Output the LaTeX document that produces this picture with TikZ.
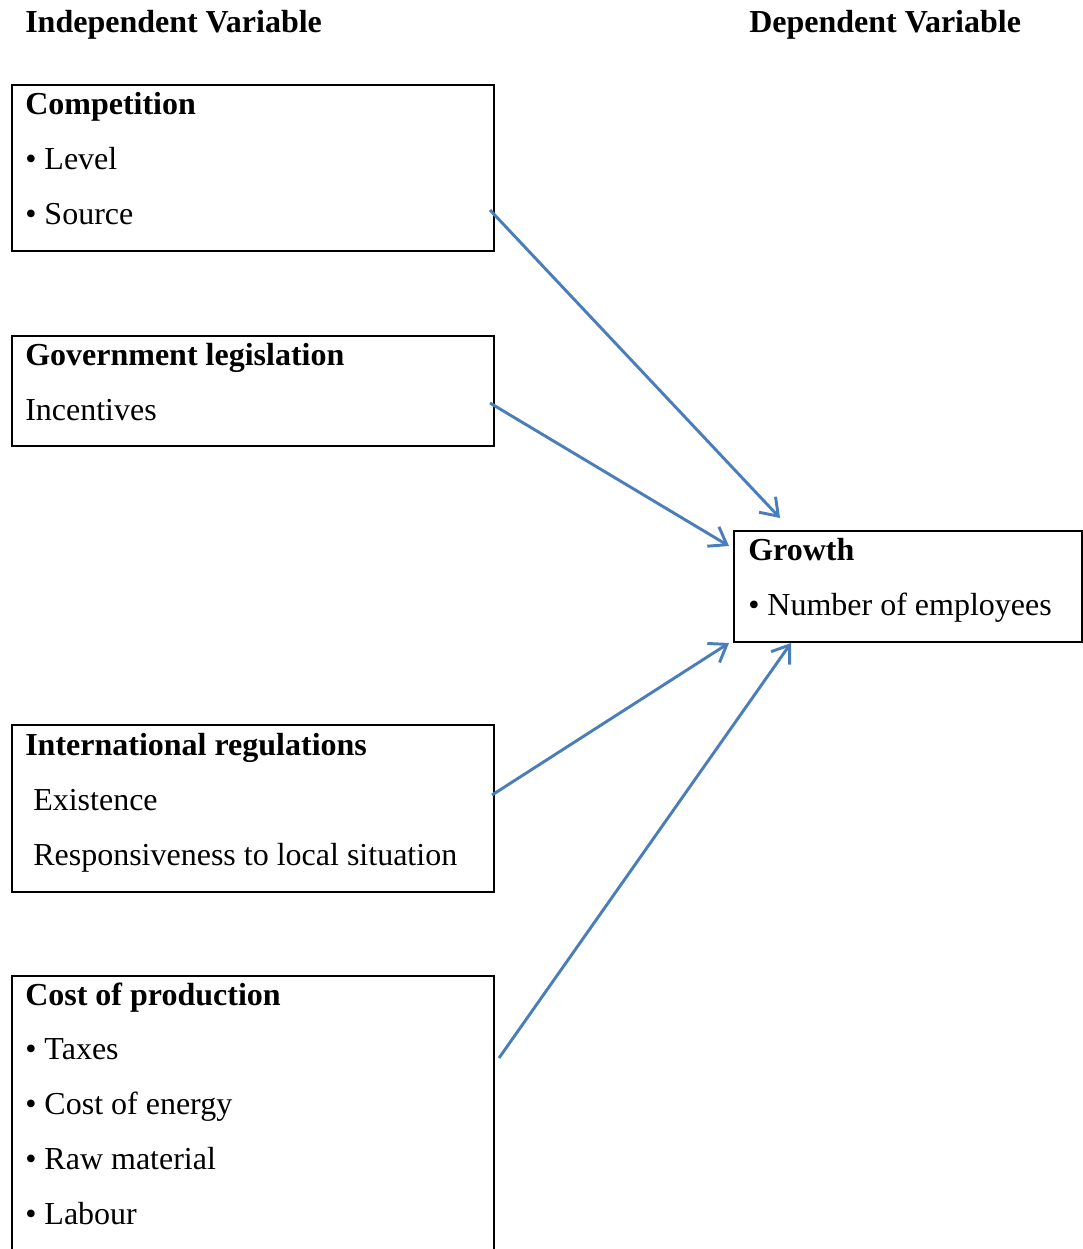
\documentclass[tikz,border=0pt]{standalone}
\usepackage{fontspec}
\setmainfont{Liberation Serif}
\usetikzlibrary{arrows.meta}
\definecolor{arrowblue}{RGB}{74,126,187}

\begin{document}
\begin{tikzpicture}[x=0.75pt, y=-0.75pt,
	box/.style={draw, line width=1.5pt, anchor=north west, inner sep=0pt},
	txt/.style={anchor=base west, inner sep=0pt, font=\fontsize{24}{28}\selectfont},
	head/.style={txt, font=\fontsize{24}{28}\selectfont\bfseries},
	link/.style={arrowblue, line width=2.2pt, -{Straight Barb[length=12pt, width=17pt, line width=2.2pt]}}]
	\useasboundingbox (0,0) rectangle (1082,1249);
	
	\node[head] (indep) at (25,32) {Independent Variable};
	\node[head] (dep) at (749,32) {Dependent Variable};
	
	% independent variables
	\node[box, minimum width=361.5pt, minimum height=124.5pt] (comp) at (11,84) {};
	\node[head] (compT) at (25,114) {Competition};
	\node[txt] (level) at (25,169) {• Level};
	\node[txt] (source) at (25,224) {• Source};
	
	\node[box, minimum width=361.5pt, minimum height=82.5pt] (gov) at (11,335) {};
	\node[head] (govT) at (25,365) {Government legislation};
	\node[txt] (incent) at (25,420) {Incentives};
	
	\node[box, minimum width=361.5pt, minimum height=125.25pt] (intl) at (11,724) {};
	\node[head] (intlT) at (25,755) {International regulations};
	\node[txt] (exist) at (33,810) {Existence};
	\node[txt] (resp) at (33,865) {Responsiveness to local situation};
	
	\node[box, minimum width=361.5pt, minimum height=225pt] (cost) at (11,975) {};
	\node[head] (costT) at (25,1005) {Cost of production};
	\node[txt] (tax) at (25,1059) {• Taxes};
	\node[txt] (energy) at (25,1114) {• Cost of energy};
	\node[txt] (raw) at (25,1169) {• Raw material};
	\node[txt] (labour) at (25,1224) {• Labour};
	
	% dependent variable
	\node[box, minimum width=261pt, minimum height=83.25pt] (growth) at (733,530) {};
	\node[head] (growthT) at (748,560) {Growth};
	\node[txt] (empl) at (748,615) {• Number of employees};
	
	\coordinate (fromComp) at (490,210);
	\coordinate (fromGov) at (490,403);
	\coordinate (fromIntl) at (492,795);
	\coordinate (fromCost) at (499,1058);
	\coordinate (toA) at (780,518);
	\coordinate (toB) at (729,546);
	\coordinate (toC) at (729,643);
	\coordinate (toD) at (791,643);
	
	\draw[link] (fromComp) -- (toA);
	\draw[link] (fromGov) -- (toB);
	\draw[link] (fromIntl) -- (toC);
	\draw[link] (fromCost) -- (toD);
\end{tikzpicture}
\end{document}
